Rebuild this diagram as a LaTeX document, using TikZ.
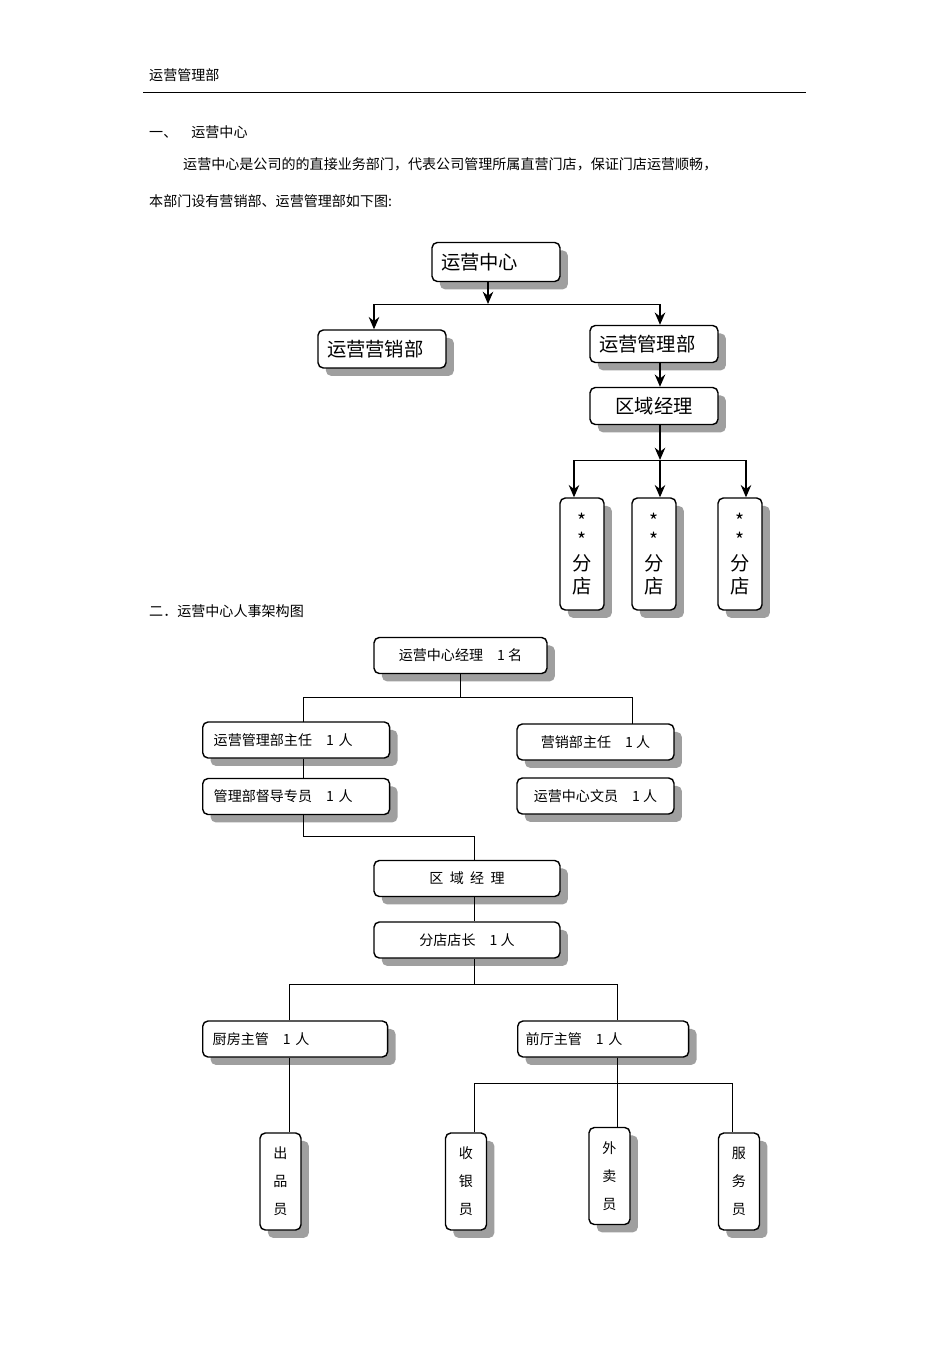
\documentclass[tikz,border=0pt]{standalone}
\usepackage{fontspec}
\setmainfont{Noto Sans CJK SC}
\usetikzlibrary{shadows,arrows.meta}
\begin{document}
\begin{tikzpicture}[x=0.02cm,y=-0.02cm,
  bx/.style={draw,thick,fill=white,rounded corners=3pt,inner sep=0pt,
    drop shadow={shadow xshift=4.5pt,shadow yshift=-4.5pt,fill=gray!75,opacity=1}},
  big/.style={font=\fontsize{11}{13}\selectfont},
  sm/.style={font=\fontsize{8}{10}\selectfont},
  ar/.style={-{Stealth[length=7pt,width=6pt]},thick},
  ln/.style={thin}]
\useasboundingbox (0,0) rectangle (950,1345);
\node[sm,anchor=west] (h) at (143,75) {运营管理部};
\draw (143,92) -- (806,92);
\node[sm,anchor=west] (t1) at (143,132) {一、\quad 运营中心};
\node[sm,anchor=west] (t2) at (177,164) {运营中心是公司的的直接业务部门，代表公司管理所属直营门店，保证门店运营顺畅，};
\node[sm,anchor=west] (t3) at (143,201) {本部门设有营销部、运营管理部如下图:};
\node[sm,anchor=west] (t4) at (143,611) {二．运营中心人事架构图};
% part 1
\def\B#1#2#3#4#5#6{\node[bx,#6,minimum width=#3*0.02cm-0.8pt,minimum height=#4*0.02cm-0.8pt] (#1) at (#2) {#5};}
\node[bx,big,minimum width=2.56cm,minimum height=0.78cm,text width=2.2cm] (c) at (496,262) {运营中心};
\node[bx,big,minimum width=2.56cm,minimum height=0.76cm,text width=2.2cm] (m) at (382,349) {运营营销部};
\node[bx,big,minimum width=2.56cm,minimum height=0.74cm,text width=2.2cm] (g) at (654,344) {运营管理部};
\node[bx,big,minimum width=2.56cm,minimum height=0.74cm,align=center] (q) at (654,406) {区域经理};
\foreach \n/\x in {s1/582,s2/654,s3/740}{
  \node[bx,big,minimum width=0.88cm,minimum height=2.24cm,align=center] (\n) at (\x,554) {*\\[-2pt]*\\分\\店};}
\coordinate (j1) at (488,304);
\draw[ar] (c.south -| j1) -- (j1);
\draw[ar] (374,304) -- (m.north -| 374,0);
\draw (374,304) -- (660,304);
\draw[ar] (660,304) -- (g.north -| 660,0);
\draw[ar] (g.south -| 660,0) -- (q.north -| 660,0);
\draw[ar] (q.south -| 660,0) -- (660,460);
\draw (574,460) -- (746,460);
\draw[ar] (574,460) -- (s1.north -| 574,0);
\draw[ar] (660,460) -- (s2.north -| 660,0);
\draw[ar] (746,460) -- (s3.north -| 746,0);
% part 2
\tikzset{b2/.style={bx,sm,minimum height=0.72cm}}
\node[b2,minimum width=3.46cm] (k) at (460.5,655.5) {运营中心经理\quad 1 名};
\node[b2,minimum width=3.74cm,anchor=west,text width=3.3cm] (z1) at (202,740) {运营管理部主任\quad 1 人};
\node[b2,minimum width=3.74cm,anchor=west,text width=3.3cm] (z2) at (202,796.5) {管理部督导专员\quad 1 人};
\node[b2,minimum width=3.14cm] (y1) at (595.5,742) {营销部主任\quad 1 人};
\node[b2,minimum width=3.14cm] (y2) at (595.5,796) {运营中心文员\quad 1 人};
\node[b2,minimum width=3.72cm] (r) at (467,878.5) {区\ \ 域\ \ 经\ \ 理};
\node[b2,minimum width=3.72cm] (d) at (467,940) {分店店长\quad 1 人};
\node[b2,minimum width=3.70cm,anchor=west,text width=3.3cm] (f1) at (202,1039) {厨房主管\quad 1 人};
\node[b2,minimum width=3.42cm,anchor=west,text width=3.1cm] (f2) at (517,1039) {前厅主管\quad 1 人};
\tikzset{v2/.style={bx,sm,minimum width=0.82cm,minimum height=1.94cm,align=center,font=\fontsize{8}{16}\selectfont}}
\node[v2] (e1) at (280.5,1181.5) {出\\品\\员};
\node[v2] (e2) at (466,1181.5) {收\\银\\员};
\node[v2] (e3) at (609.5,1176) {外\\卖\\员};
\node[v2] (e4) at (739,1181.5) {服\\务\\员};
\draw (k.south -| 460,0) -- (460,697);
\draw (303,722) -- (303,697) -- (632,697) -- (632,724);
\draw (z1.south -| 303,0) -- (z2.north -| 303,0);
\draw (z2.south -| 303,0) -- (303,836) -- (474,836) -- (r.north -| 474,0);
\draw (r.south -| 474,0) -- (d.north -| 474,0);
\draw (d.south -| 474,0) -- (474,984);
\draw (f1.north -| 289,0) -- (289,984) -- (617,984) -- (f2.north -| 617,0);
\draw (f1.south -| 289,0) -- (e1.north -| 289,0);
\draw (f2.south -| 617,0) -- (e3.north -| 617,0);
\draw (e2.north -| 474,0) -- (474,1083) -- (732,1083) -- (e4.north -| 732,0);
\end{tikzpicture}
\end{document}
